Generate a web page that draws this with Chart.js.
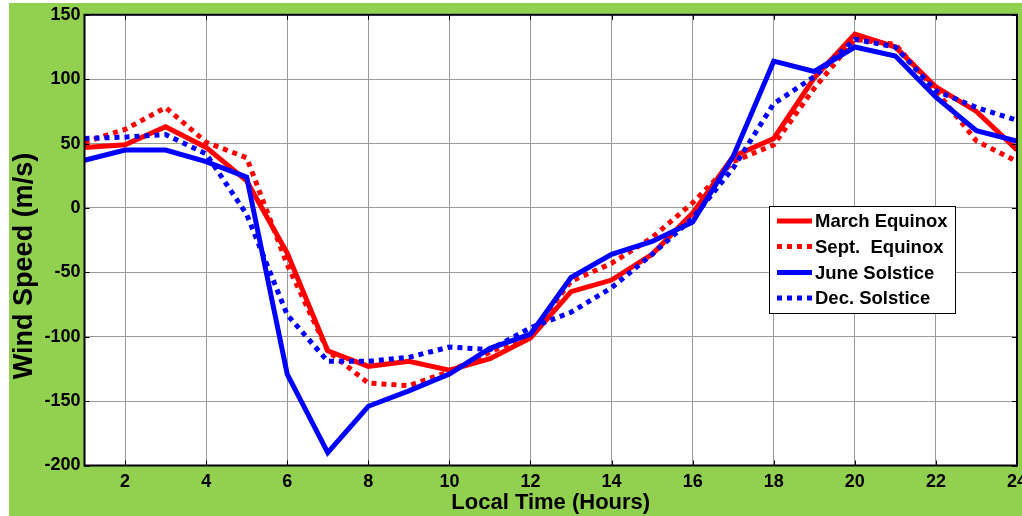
<!DOCTYPE html>
<html>
<head>
<meta charset="utf-8">
<script src="https://cdn.jsdelivr.net/npm/chart.js@4"></script>
<style>
  html, body { margin: 0; padding: 0; background: #ffffff; overflow: hidden; }
  #wrap { position: relative; width: 1036px; height: 516px; }
</style>
</head>
<body>
<div id="wrap"><canvas id="wind-chart"></canvas></div>
<script>
// Data
const hours = [1, 2, 3, 4, 5, 6, 7, 8, 9, 10, 11, 12, 13, 14, 15, 16, 17, 18, 19, 20, 21, 22, 23, 24];
const march_equinox = [47, 49, 63, 47, 21, -35, -111, -123, -119, -126, -117, -101, -65, -56, -36, -4, 40, 54, 101, 135, 125, 94, 75, 45];
const sept_equinox = [51, 61, 78, 51, 39, -44, -111, -136, -138, -127, -112, -98, -57, -43, -23, 4, 36, 49, 93, 131, 127, 91, 52, 36];
const june_solstice = [37, 45, 45, 36, 24, -129, -190, -154, -142, -129, -109, -98, -54, -36, -26, -11, 40, 114, 106, 125, 118, 86, 60, 52];
const dec_solstice = [54, 55, 57, 42, -5, -83, -119, -119, -116, -108, -110, -93, -81, -62, -36, -8, 31, 81, 102, 131, 125, 91, 78, 68];

const series_names = ["March Equinox", "Sept.  Equinox", "June Solstice", "Dec. Solstice"];
const x_ticks = [2, 4, 6, 8, 10, 12, 14, 16, 18, 20, 22, 24];
const y_ticks = [-200, -150, -100, -50, 0, 50, 100, 150];
const x_title = "Local Time (Hours)";
const y_title = "Wind Speed (m/s)";

const FONT = "'Liberation Sans', Arial, sans-serif";
const GREEN = "#92D050";

function to_points(values) {
    return hours.map((h, i) => ({ x: h, y: values[i] }));
}

// background, frame, titles and the legend box
const decor = {
    id: "decor",
    beforeDraw(chart) {
        const c = chart.ctx;
        const a = chart.chartArea;
        c.save();
        c.fillStyle = GREEN;
        c.fillRect(9, 3, chart.width, chart.height);
        c.fillStyle = "#ffffff";
        c.fillRect(a.left, a.top, a.right - a.left, a.bottom - a.top);
        c.restore();
    },
    afterDraw(chart) {
        const c = chart.ctx;
        const a = chart.chartArea;
        const xs = chart.scales.x;
        const ys = chart.scales.y;
        c.save();

        // small inward ticks
        c.strokeStyle = "#000";
        c.lineWidth = 1;
        c.beginPath();
        x_ticks.forEach(v => {
            const px = Math.round(xs.getPixelForValue(v)) + 0.5;
            c.moveTo(px, a.bottom); c.lineTo(px, a.bottom - 5);
            c.moveTo(px, a.top); c.lineTo(px, a.top + 5);
        });
        y_ticks.forEach(v => {
            const py = Math.round(ys.getPixelForValue(v)) + 0.5;
            c.moveTo(a.right, py); c.lineTo(a.right - 5, py);
            c.moveTo(a.left, py); c.lineTo(a.left + 5, py);
        });
        c.stroke();

        // frame
        c.lineWidth = 2;
        c.strokeRect(a.left, a.top, a.right - a.left, a.bottom - a.top);

        // axis titles
        c.fillStyle = "#000";
        c.textAlign = "center";
        c.textBaseline = "middle";
        c.font = "bold 22px " + FONT;
        c.fillText(x_title, (a.left + a.right) / 2, 503);
        c.translate(25, 266);
        c.rotate(-Math.PI / 2);
        c.font = "bold 27px " + FONT;
        c.fillText(y_title, 0, 0);
        c.restore();

        // legend
        c.save();
        const box = { left: 769, top: 206, right: 955, bottom: 313 };
        c.fillStyle = "#fff";
        c.fillRect(box.left, box.top, box.right - box.left, box.bottom - box.top);
        c.strokeStyle = "#000";
        c.lineWidth = 1;
        c.strokeRect(box.left + 0.5, box.top + 0.5, box.right - box.left, box.bottom - box.top);
        const rows = [221, 246.5, 272.5, 298];
        chart.data.datasets.forEach((ds, i) => {
            const y = rows[i];
            c.strokeStyle = ds.borderColor;
            c.lineWidth = 5;
            c.setLineDash(ds.borderDash || []);
            c.beginPath();
            c.moveTo(777, y); c.lineTo(812, y);
            c.stroke();
            c.setLineDash([]);
            c.fillStyle = "#000";
            c.font = "bold 18.5px " + FONT;
            c.textAlign = "left";
            c.textBaseline = "middle";
            c.fillText(ds.label, 815, y + 1);
        });
        c.restore();
    }
};

const data = {
    datasets: [
        { label: series_names[0], data: to_points(march_equinox), borderColor: "#ff0000", order: 4 },
        { label: series_names[1], data: to_points(sept_equinox), borderColor: "#ff0000", borderDash: [5, 5], order: 3 },
        { label: series_names[2], data: to_points(june_solstice), borderColor: "#0000ff", order: 2 },
        { label: series_names[3], data: to_points(dec_solstice), borderColor: "#0000ff", borderDash: [5, 5], order: 1 }
    ]
};

data.datasets.forEach(ds => {
    ds.borderWidth = 5;
    ds.pointRadius = 0;
    ds.fill = false;
    ds.tension = 0;
    ds.borderCapStyle = "butt";
});

const options = {
    responsive: true,
    maintainAspectRatio: false,
    animation: false,
    layout: { padding: { left: 0, right: 19, top: 14, bottom: 0 } },
    plugins: { legend: { display: false }, tooltip: { enabled: false } },
    scales: {
        x: {
            type: "linear",
            min: 1,
            max: 24,
            afterBuildTicks: axis => { axis.ticks = x_ticks.map(v => ({ value: v })); },
            afterFit: axis => { axis.height = 50.5; },
            grid: { color: "#9a9a9a", lineWidth: 1, drawTicks: false },
            border: { display: false },
            ticks: { color: "#000", padding: 6, maxRotation: 0, font: { family: FONT, size: 18, weight: "bold" } }
        },
        y: {
            min: -200,
            max: 150,
            afterBuildTicks: axis => { axis.ticks = y_ticks.map(v => ({ value: v })); },
            afterFit: axis => { axis.width = 84.5; },
            grid: { color: "#9a9a9a", lineWidth: 1, drawTicks: false },
            border: { display: false },
            ticks: { color: "#000", padding: 4, font: { family: FONT, size: 18, weight: "bold" } }
        }
    }
};

const ctx = document.getElementById("wind-chart").getContext("2d");
const wind_chart = new Chart(ctx, {
    type: "line",
    data: data,
    options: options,
    plugins: [decor]
});
</script>
</body>
</html>
